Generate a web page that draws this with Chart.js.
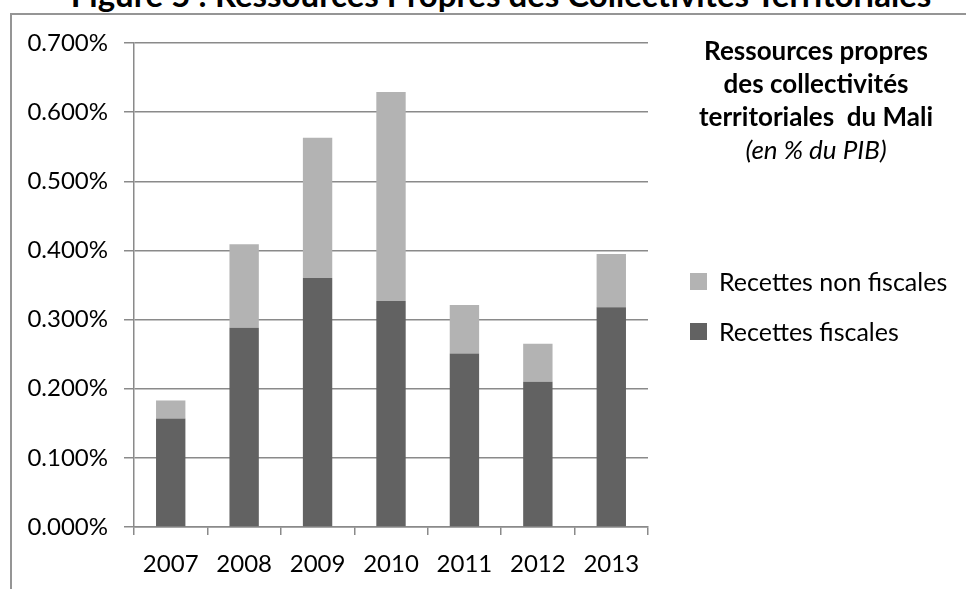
<!DOCTYPE html>
<html lang="fr">
<head>
<meta charset="utf-8">
<title>Ressources propres des collectivités territoriales</title>
<script src="https://cdn.jsdelivr.net/npm/chart.js@4.4.1/dist/chart.umd.min.js"></script>
<style>
  html, body { margin: 0; padding: 0; background: #fff; }
  #wrap { position: relative; width: 966px; height: 589px; overflow: hidden; font-family: Lato, "Open Sans", sans-serif; color: #000; }
  #frame { position: absolute; left: 10px; top: 13px; right: -4px; bottom: -4px; border-left: 2px solid #959595; border-top: 2px solid #959595; }
  #fig-title { position: absolute; left: 0; width: 1002px; top: -22px; text-align: center; font-size: 33px; font-weight: bold; line-height: 33px; white-space: nowrap; }
  #side-title { position: absolute; left: 676px; width: 280px; top: 34px; text-align: center; font-size: 26px; font-weight: bold; line-height: 33px; white-space: nowrap; }
  #side-title em { font-weight: normal; }
  #legend { position: absolute; left: 690px; top: 268px; font-size: 25px; }
  #legend .item { display: flex; align-items: center; height: 26px; margin-bottom: 24px; white-space: nowrap; }
  #legend .box { width: 17px; height: 17px; margin-right: 12px; }
  #chart { position: absolute; left: 0; top: 0; }
</style>
</head>
<body>
<div id="wrap">
  <div id="fig-title">Figure 5 : Ressources Propres des Collectivités Territoriales</div>
  <div id="frame"></div>
  <canvas id="chart" width="966" height="589"></canvas>
  <div id="side-title">Ressources propres<br>des collectivités<br>territoriales&nbsp; du Mali<br><em>(en % du PIB)</em></div>
  <div id="legend"></div>
</div>
<script>
// années
const years = ["2007", "2008", "2009", "2010", "2011", "2012", "2013"];

// recettes en % du PIB
const recettesFiscales = [0.157, 0.288, 0.360, 0.327, 0.251, 0.210, 0.318];
const recettesNonFiscales = [0.026, 0.121, 0.203, 0.302, 0.070, 0.055, 0.077];

// graduations de l'axe vertical
const yMin = 0;
const yMax = 0.7;
const yStep = 0.1;

const colFiscal = "#626262";
const colNonFiscal = "#b3b3b3";
const gridCol = "#8a8a8a";
const tickFont = { family: "Lato", size: 24 };

const ctx = document.getElementById("chart");
const chart = new Chart(ctx, {
  type: "bar",
  data: {
    labels: years,
    datasets: [
      { label: "Recettes fiscales", data: recettesFiscales, backgroundColor: colFiscal, barPercentage: 0.4, categoryPercentage: 1 },
      { label: "Recettes non fiscales", data: recettesNonFiscales, backgroundColor: colNonFiscal, barPercentage: 0.4, categoryPercentage: 1 }
    ]
  },
  options: {
    responsive: false,
    animation: false,
    layout: { padding: { left: 0, top: 43, right: 318, bottom: 0 } },
    plugins: {
      legend: { display: false },
      title: { display: false },
      tooltip: { enabled: false }
    },
    scales: {
      x: {
        stacked: true,
        grid: { offset: true, drawOnChartArea: false, tickLength: 8, color: gridCol, lineWidth: 1.5 },
        border: { color: gridCol, width: 1.5 },
        ticks: { color: "#000", font: tickFont, padding: 15 },
        afterFit: (scale) => { scale.height = 62; }
      },
      y: {
        stacked: true,
        min: yMin,
        max: yMax,
        grid: { tickLength: 10, color: gridCol, lineWidth: 1.5 },
        border: { color: gridCol, width: 1.5 },
        ticks: {
          stepSize: yStep,
          color: "#000",
          font: tickFont,
          padding: 16,
          callback: (v) => v.toFixed(3) + "%"
        },
        afterFit: (scale) => { scale.width = 134; }
      }
    }
  }
});

// légende : non fiscales en haut, fiscales en dessous
const legend = document.getElementById("legend");
chart.data.datasets.slice().reverse().forEach(ds => {
  const item = document.createElement("div");
  item.className = "item";
  item.innerHTML = `<span class="box" style="background:${ds.backgroundColor}"></span><span>${ds.label}</span>`;
  legend.appendChild(item);
});
</script>
</body>
</html>
